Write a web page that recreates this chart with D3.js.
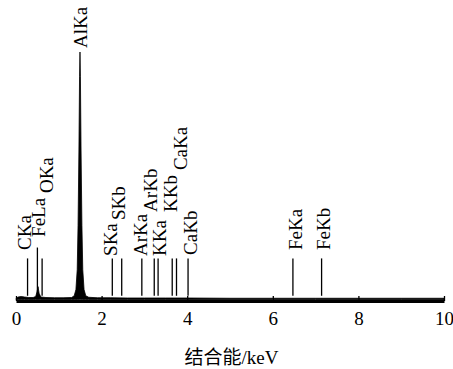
<!DOCTYPE html>
<html>
<head>
<meta charset="utf-8">
<script src="https://cdn.jsdelivr.net/npm/d3@7"></script>
<style>
  body { margin: 0; background: #fff; }
</style>
</head>
<body>
<svg id="chart" width="453" height="369"></svg>
<script>
// EDS spectrum trace: energy (keV) vs relative counts (AlKa peak = 100)
const energy = [0, 0.05, 0.12, 0.2, 0.3, 0.4, 0.46, 0.49, 0.515, 0.54, 0.58, 0.7, 0.9, 1.1, 1.3, 1.36, 1.40, 1.43, 1.45, 1.47, 1.485, 1.495, 1.505, 1.52, 1.54, 1.56, 1.59, 1.63, 1.7, 1.9, 2.2, 2.6, 3.0, 3.5, 4.0, 5.0, 6.0, 7.0, 8.0, 9.0, 10.0];
const counts = [0.4, 1.0, 1.2, 1.0, 0.8, 0.8, 1.2, 3.0, 5.2, 2.5, 1.0, 0.8, 0.7, 0.7, 0.8, 1.5, 4, 12, 30, 60, 90, 100, 90, 60, 30, 12, 4, 1.5, 0.9, 0.7, 0.7, 0.6, 0.6, 0.6, 0.6, 0.5, 0.5, 0.5, 0.5, 0.5, 0.5];

// element line markers
const lineNames  = ["CKa", "FeLa", "OKa", "SKa", "SKb", "ArKa", "ArKb", "KKa", "KKb", "CaKa", "CaKb", "FeKa", "FeKb"];
const lineEnergy = [0.27, 0.50, 0.61, 2.25, 2.47, 2.94, 3.23, 3.32, 3.65, 3.75, 4.02, 6.47, 7.14];
const lineTop    = [16.6, 21.0, 16.6, 16.6, 16.6, 16.6, 16.6, 16.6, 16.6, 16.6, 16.6, 16.6, 16.6];
const lineBottom = 1.5;

// label anchors (baseline side, bottom end) in data units
const labelNames  = ["CKa", "FeLa", "OKa", "AlKa", "SKa", "SKb", "ArKa", "ArKb", "KKa", "KKb", "CaKa", "CaKb", "FeKa", "FeKb"];
const labelEnergy = [0.36, 0.68, 0.86, 1.65, 2.35, 2.55, 3.06, 3.29, 3.51, 3.76, 3.99, 4.23, 6.68, 7.33];
const labelCounts = [20.0, 25.3, 43.0, 101.6, 17.6, 32.1, 17.6, 35.4, 17.6, 35.4, 52.3, 18.0, 20.0, 20.0];

const xTicks = [0, 2, 4, 6, 8, 10];
const xTitle = "结合能/keV";

const serif = "'Liberation Serif', 'Times New Roman', Times, serif";
const serifCJK = "'Liberation Serif', 'Times New Roman', 'Noto Sans CJK SC', serif";

const svg = d3.select("#chart");

const x = d3.scaleLinear().domain([0, 10]).range([16, 444]);
const y = d3.scaleLinear().domain([0, 100]).range([299.5, 52]);

// spectrum
const pts = energy.map((e, i) => [e, counts[i]]);
const area = d3.area()
  .x(d => x(d[0]))
  .y0(y(0))
  .y1(d => y(d[1]));

svg.append("path")
  .datum(pts)
  .attr("d", area)
  .attr("fill", "#000")
  .attr("stroke", "#000")
  .attr("stroke-width", 0.8)
  .attr("stroke-linejoin", "round");

// marker lines
svg.selectAll(".mark")
  .data(lineNames)
  .join("line")
  .attr("class", "mark")
  .attr("x1", (d, i) => x(lineEnergy[i]))
  .attr("x2", (d, i) => x(lineEnergy[i]))
  .attr("y1", y(lineBottom))
  .attr("y2", (d, i) => y(lineTop[i]))
  .attr("stroke", "#000")
  .attr("stroke-width", 1.3);

// marker labels
svg.selectAll(".lbl")
  .data(labelNames)
  .join("text")
  .attr("class", "lbl")
  .attr("transform", (d, i) => `translate(${x(labelEnergy[i])},${y(labelCounts[i])}) rotate(-90)`)
  .style("font-family", serif)
  .style("font-size", "19px")
  .style("fill", "#000")
  .text(d => d);

// x axis
const xAxis = d3.axisBottom(x)
  .tickValues(xTicks)
  .tickFormat(d3.format("d"))
  .tickSizeInner(-5)
  .tickSizeOuter(0)
  .tickPadding(11);

const gx = svg.append("g")
  .attr("transform", "translate(0,301)")
  .call(xAxis);
gx.select(".domain").attr("stroke-width", 3);
gx.selectAll(".tick line").attr("stroke-width", 1.3);
gx.selectAll(".tick text")
  .style("font-family", serif)
  .style("font-size", "19px")
  .style("fill", "#000");

svg.append("text")
  .attr("x", 231.5)
  .attr("y", 364)
  .attr("text-anchor", "middle")
  .style("font-family", serifCJK)
  .style("font-size", "19px")
  .style("fill", "#000")
  .text(xTitle);
</script>
</body>
</html>
